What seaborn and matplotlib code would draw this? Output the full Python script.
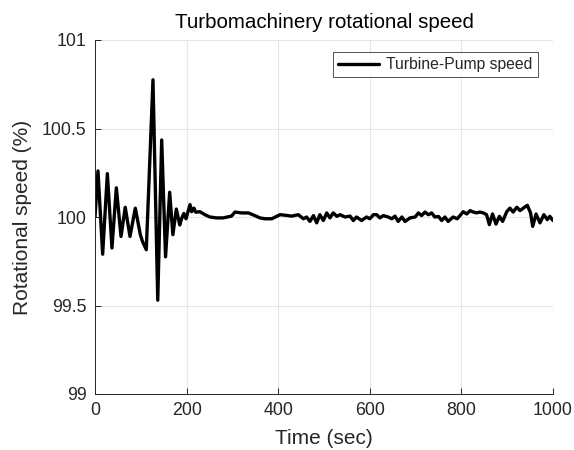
import numpy as np
import pandas as pd
import seaborn as sns
import matplotlib.pyplot as plt

# Turbine-pump speed trace (time in s, speed in %)
time_s = [
    0, 6.5, 16.7, 27, 37, 46.6, 56.8, 66, 76.4, 88, 99, 104, 112,
    126.6, 137, 145.6, 154, 163, 170, 177.6, 185, 189, 194, 198.7,
    207.4, 211, 216, 220, 229, 240, 251, 265, 280, 298, 305.7, 320,
    334.8, 349, 360, 371, 386, 397, 404, 415, 429, 444, 455, 462,
    469.4, 477, 484, 491, 498.5, 506, 513, 520, 528, 535, 546, 557,
    564, 571, 582, 593, 600, 608, 615, 622, 629.5, 640, 648, 655,
    662, 670, 677, 688, 699, 706, 713, 720.5, 728, 735, 742, 750,
    757, 764, 771, 782, 791, 798.5, 804, 811.6, 819, 826, 833,
    840.6, 848, 855, 861, 868, 875.5, 883, 890, 899, 906, 913, 921,
    928, 935, 944, 951, 955.7, 963, 971.6, 980, 987.6, 993, 1000,
]
speed_pct = [
    100.0, 100.26, 99.79, 100.245, 99.825, 100.165, 99.89, 100.055,
    99.89, 100.05, 99.9, 99.86, 99.815, 100.775, 99.53, 100.435,
    99.775, 100.14, 99.9, 100.045, 99.955, 99.99, 100.02, 99.99,
    100.07, 100.03, 100.05, 100.027, 100.03, 100.013, 100.0, 99.995,
    99.995, 100.005, 100.028, 100.023, 100.023, 100.008, 99.995,
    99.99, 99.99, 100.004, 100.013, 100.01, 100.005, 100.013, 99.99,
    100.0, 99.975, 100.008, 99.967, 100.013, 99.98, 100.023, 99.995,
    100.023, 100.004, 100.013, 100.0, 100.005, 99.98, 100.0, 99.98,
    100.0, 99.99, 100.013, 100.013, 99.995, 100.008, 100.0, 99.99,
    100.005, 99.975, 100.0, 99.975, 99.995, 100.0, 100.023, 100.008,
    100.028, 100.013, 100.023, 100.0, 100.003, 99.98, 100.0, 99.975,
    100.0, 99.99, 100.013, 100.03, 100.017, 100.036, 100.028, 100.023,
    100.028, 100.023, 100.013, 99.957, 100.017, 99.96, 100.004,
    99.975, 100.03, 100.05, 100.028, 100.055, 100.036, 100.05,
    100.066, 100.023, 99.947, 100.017, 99.967, 100.013, 99.985,
    100.004, 99.98,
]
x_ticks = [0, 200, 400, 600, 800, 1000]
y_ticks = [99, 99.5, 100, 100.5, 101]
y_tick_labels = ["99", "99.5", "100", "100.5", "101"]

df = pd.DataFrame({"time": time_s, "speed": speed_pct})

sns.set_style("white")
plt.rcParams["font.family"] = ["Liberation Sans", "DejaVu Sans"]

fig = plt.figure(figsize=(5.74, 4.5), dpi=100)
ax = fig.add_axes([95 / 574, 1 - 394 / 450, (553 - 95) / 574, (394 - 40) / 450])

sns.lineplot(data=df, x="time", y="speed", color="black", linewidth=2.4,
             label="Turbine-Pump speed", ax=ax)

ax.set_xlim(0, 1000)
ax.set_ylim(99, 101)
ax.set_xticks(x_ticks)
ax.set_yticks(y_ticks)
ax.set_yticklabels(y_tick_labels)
ax.grid(True, color="#e6e6e6", linewidth=0.8)
ax.set_axisbelow(True)

for side in ["top", "right"]:
    ax.spines[side].set_visible(False)
for side in ["left", "bottom"]:
    ax.spines[side].set_color("#262626")
    ax.spines[side].set_linewidth(0.7)
ax.tick_params(direction="in", length=4, width=0.7, colors="#262626",
               labelsize=12.8, pad=6, top=False, right=False, left=True, bottom=True)

ax.set_title("Turbomachinery rotational speed", fontsize=14.8, color="black", pad=9)
ax.set_xlabel("Time (sec)", fontsize=15, color="#262626", labelpad=7)
ax.set_ylabel("Rotational speed (%)", fontsize=15, color="#262626", labelpad=7)

leg = ax.legend(loc="upper right", bbox_to_anchor=(0.967, 0.966), borderaxespad=0,
                fontsize=11.3, frameon=True, fancybox=False, handlelength=2.6,
                borderpad=0.32, handletextpad=0.5)
leg.get_frame().set_edgecolor("#262626")
leg.get_frame().set_linewidth(0.7)

fig.savefig("out.png", dpi=100)
